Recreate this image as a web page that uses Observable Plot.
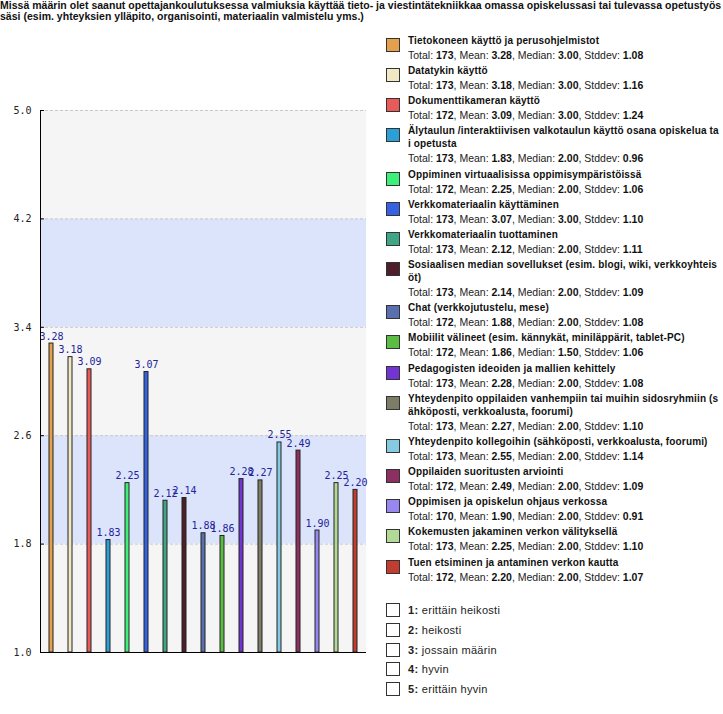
<!DOCTYPE html>
<html>
<head>
<meta charset="utf-8">
<script src="https://cdn.jsdelivr.net/npm/d3@7"></script>
<script src="https://cdn.jsdelivr.net/npm/@observablehq/plot@0.6"></script>
<style>
  html, body { margin: 0; padding: 0; background: #fff; }
  #root { position: relative; width: 723px; height: 714px; overflow: hidden; font-family: "Liberation Sans", Arial, sans-serif; }
  #title { position: absolute; left: 0; top: 0; width: 723px; font-size: 10.5px; font-weight: bold; line-height: 11px; color: #111; letter-spacing: 0.02px; white-space: nowrap; }
  #chart { position: absolute; left: 0; top: 30px; }
  #legend { position: absolute; left: 386px; top: 34px; width: 337px; }
  .item { position: relative; padding-left: 22px; }
  .sw { position: absolute; left: 0; top: 4px; width: 12px; height: 12px; border: 1px solid #333; }
  .nm { font-size: 10px; font-weight: bold; line-height: 13px; color: #111; width: 311px; word-break: break-all; letter-spacing: 0.15px; }
  .st { font-size: 10.5px; line-height: 17.15px; color: #222; white-space: nowrap; letter-spacing: 0px; }
  .st b { color: #111; }
  #scale { position: absolute; left: 386px; top: 603px; }
  .sitem { position: relative; height: 19.8px; padding-left: 22px; font-size: 11px; line-height: 14px; color: #222; letter-spacing: 0.3px; }
  .sitem .sw { top: 0; background: #fff; }
</style>
</head>
<body>
<div id="root">
  <div id="title"></div>
  <div id="chart"></div>
  <div id="legend"></div>
  <div id="scale"></div>
</div>
<script>
const titleLines = [
  "Missä määrin olet saanut opettajankoulutuksessa valmiuksia käyttää tieto- ja viestintätekniikkaa omassa opiskelussasi tai tulevassa opetustyös",
  "säsi (esim. yhteyksien ylläpito, organisointi, materiaalin valmistelu yms.)"
];
const names = [
  "Tietokoneen käyttö ja perusohjelmistot",
  "Datatykin käyttö",
  "Dokumenttikameran käyttö",
  "Älytaulun /interaktiivisen valkotaulun käyttö osana opiskelua tai opetusta",
  "Oppiminen virtuaalisissa oppimisympäristöissä",
  "Verkkomateriaalin käyttäminen",
  "Verkkomateriaalin tuottaminen",
  "Sosiaalisen median sovellukset (esim. blogi, wiki, verkkoyhteisöt)",
  "Chat (verkkojutustelu, mese)",
  "Mobiilit välineet (esim. kännykät, miniläppärit, tablet-PC)",
  "Pedagogisten ideoiden ja mallien kehittely",
  "Yhteydenpito oppilaiden vanhempiin tai muihin sidosryhmiin (sähköposti, verkkoalusta, foorumi)",
  "Yhteydenpito kollegoihin (sähköposti, verkkoalusta, foorumi)",
  "Oppilaiden suoritusten arviointi",
  "Oppimisen ja opiskelun ohjaus verkossa",
  "Kokemusten jakaminen verkon välityksellä",
  "Tuen etsiminen ja antaminen verkon kautta"
];
const totals  = [173, 173, 172, 173, 172, 173, 173, 173, 172, 172, 173, 173, 173, 172, 170, 173, 172];
const means   = [3.28, 3.18, 3.09, 1.83, 2.25, 3.07, 2.12, 2.14, 1.88, 1.86, 2.28, 2.27, 2.55, 2.49, 1.90, 2.25, 2.20];
const medians = [3.00, 3.00, 3.00, 2.00, 2.00, 3.00, 2.00, 2.00, 2.00, 1.50, 2.00, 2.00, 2.00, 2.00, 2.00, 2.00, 2.00];
const stddevs = [1.08, 1.16, 1.24, 0.96, 1.06, 1.10, 1.11, 1.09, 1.08, 1.06, 1.08, 1.10, 1.14, 1.09, 0.91, 1.10, 1.07];
const colors  = ["#e4a04c", "#f1e9c4", "#e95a5a", "#2b9fd6", "#3df07a", "#3562e0", "#3fa584", "#4e1f2a",
                 "#5a6fae", "#5cbd44", "#7234d2", "#7d7c67", "#85c9e3", "#8e2f62", "#9887f0", "#b3d996", "#c23d2f"];
const yTicks = [1.0, 1.8, 2.6, 3.4, 4.2, 5.0];
const scaleLabels = ["1", "2", "3", "4", "5"];
const scaleTexts = ["erittäin heikosti", "heikosti", "jossain määrin", "hyvin", "erittäin hyvin"];

// Title
document.getElementById("title").innerHTML = titleLines.map(l => `<div>${l}</div>`).join("");

// Data table
const data = names.map((n, i) => ({name: n, mean: means[i], color: colors[i]}));
const bands = yTicks.slice(0, -1).map((lo, i) => ({lo, hi: yTicks[i + 1], i}));

const chart = Plot.plot({
  width: 380,
  height: 650,
  marginTop: 80,
  marginBottom: 28,
  marginLeft: 40,
  marginRight: 14,
  style: {background: "transparent", overflow: "visible"},
  x: {type: "band", domain: names, paddingInner: 0.8, paddingOuter: 0.4, axis: null},
  y: {domain: [1, 5], axis: null},
  marks: [
    Plot.rectY(bands, {y1: "lo", y2: "hi", fill: d => d.i % 2 ? "#dce4fb" : "#f5f5f5"}),
    Plot.ruleY(yTicks.slice(1), {stroke: "#c8c8c8", strokeDasharray: "3,2"}),
    Plot.axisY({ticks: yTicks, tickSize: 0, tickPadding: 9, tickFormat: d => d.toFixed(1),
      fontFamily: "DejaVu Sans Mono, monospace", fontSize: 10, fill: "#222", label: null}),
    Plot.axisY({ticks: yTicks, tickSize: -4, tickFormat: () => "", stroke: "#000", label: null}),
    Plot.barY(data, {x: "name", y1: 1, y2: "mean", fill: "color", stroke: "#222", strokeWidth: 1}),
    Plot.text(data, {x: "name", y: "mean", text: d => d.mean.toFixed(2), lineAnchor: "bottom", dy: -4,
      fill: "#23239a", fontFamily: "DejaVu Sans Mono, monospace", fontSize: 10}),
    Plot.ruleY([1], {stroke: "#000"}),
    Plot.frame({anchor: "left", stroke: "#000"})
  ]
});
document.getElementById("chart").append(chart);

// Legend
const legend = document.getElementById("legend");
names.forEach((n, i) => {
  const el = document.createElement("div");
  el.className = "item";
  el.innerHTML = `<div class="sw" style="background:${colors[i]}"></div>
    <div class="nm">${n}</div>
    <div class="st">Total: <b>${totals[i]}</b>, Mean: <b>${means[i].toFixed(2)}</b>, Median: <b>${medians[i].toFixed(2)}</b>, Stddev: <b>${stddevs[i].toFixed(2)}</b></div>`;
  legend.append(el);
});

const scale = document.getElementById("scale");
scaleLabels.forEach((k, i) => {
  const el = document.createElement("div");
  el.className = "sitem";
  el.innerHTML = `<div class="sw"></div><b>${k}:</b> ${scaleTexts[i]}`;
  scale.append(el);
});
</script>
</body>
</html>
